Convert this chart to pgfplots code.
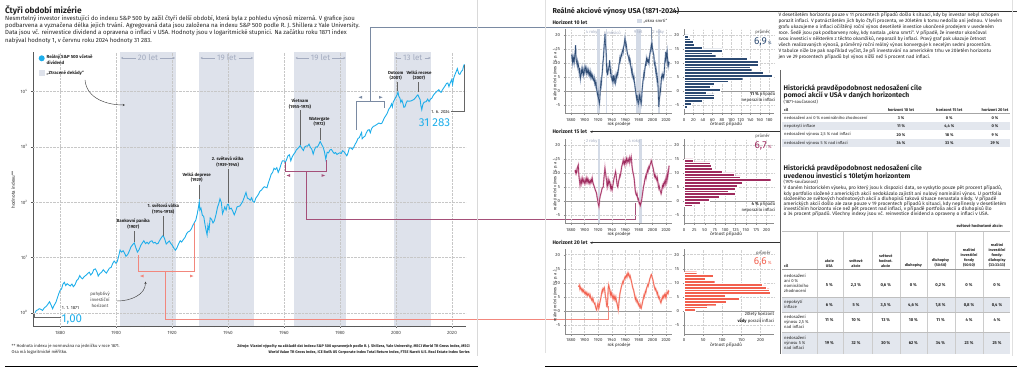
\documentclass[border=0pt]{standalone}
\usepackage{pgfplots}
\pgfplotsset{compat=1.18}
\usepackage{pgfplotstable}
\usepackage{fontspec}
\setmainfont{Fira Sans}
\usetikzlibrary{arrows.meta}
\definecolor{cy}{HTML}{1EAEEA}
\definecolor{band}{HTML}{DEE2EB}
\definecolor{bandtxt}{HTML}{A3ABBF}
\definecolor{navy}{HTML}{2C4A72}
\definecolor{navyl}{HTML}{A3B2CA}
\definecolor{plum}{HTML}{9E2B5E}
\definecolor{pluml}{HTML}{DDA3BD}
\definecolor{salm}{HTML}{F2604E}
\definecolor{salml}{HTML}{F9B7AE}
\definecolor{redc}{HTML}{F2877D}
\definecolor{purc}{HTML}{A55079}
\definecolor{bluc}{HTML}{7A8AA2}
\definecolor{win}{HTML}{D3DAE6}
\definecolor{rowg}{HTML}{E3E7EE}
\definecolor{txt}{HTML}{222222}
\newcommand\fsz[2]{\fontsize{#1pt}{#2pt}\selectfont}
\newcommand\tl[3]{\node[anchor=west, font=\fsz{4.1}{4.8}, text=txt, inner sep=0, align=left] at (#1,-#2) {#3};}
\newcommand\tc[3]{\node[font=\fsz{4.0}{4.8}\bfseries, text=txt, inner sep=0, align=center] at (#1,-#2) {#3};}
\newcommand\ann[3]{\node[font=\fsz{4.4}{5.2}\bfseries, text=txt, inner sep=0, align=center] at (#1,-#2) {#3};}

\pgfplotsset{
  common/.style={scale only axis,
    axis x line*=bottom, axis y line*=left,
    axis line style={black!45, line width=0.4pt},
    tick align=outside, major tick length=1.5pt,
    tick style={black!45, line width=0.3pt},
    /pgf/number format/1000 sep={}, /pgf/number format/assume math mode=true,
    tick label style={font=\fsz{4.3}{5}, text=black!80},
    grid=major, major grid style={densely dotted, black!18, line width=0.35pt},
    ymin=-8, ymax=22, ytick={-5,0,...,20}},
  midchart/.style={common, width=106.7pt, height=84pt,
    xmin=1871.2, xmax=2028.3, xtick={1880,1900,...,2020}},
  histo/.style={common, width=90pt, height=84pt, xmin=0},
}

\pgfplotstableread{
x y
1871.0 1.00
1871.5 1.10
1872.0 1.12
1872.5 1.18
1873.0 1.16
1873.7 1.10
1874.3 1.22
1875.0 1.30
1875.6 1.42
1876.2 1.58
1876.7 1.40
1877.3 1.18
1877.8 1.35
1878.5 1.55
1879.0 1.85
1879.5 2.20
1880.0 2.55
1880.5 2.70
1881.0 3.30
1881.5 3.55
1882.0 3.10
1882.5 3.35
1883.0 3.20
1883.6 3.05
1884.2 3.30
1884.7 2.95
1885.3 3.20
1885.9 3.80
1886.5 4.10
1887.0 4.70
1887.5 4.30
1888.0 4.10
1888.6 4.50
1889.2 4.75
1889.8 5.10
1890.4 5.40
1890.9 4.80
1891.5 5.20
1892.0 6.00
1892.6 6.20
1893.2 5.40
1893.6 4.60
1894.2 5.10
1894.8 5.40
1895.4 6.00
1895.9 5.60
1896.5 5.20
1897.0 5.70
1897.6 6.40
1898.2 6.60
1898.8 7.80
1899.3 8.60
1899.9 7.90
1900.4 8.40
1900.9 10.5
1901.4 13.6
1901.9 12.5
1902.5 13.2
1903.0 12.0
1903.5 10.5
1904.1 11.2
1904.7 13.0
1905.3 15.5
1905.9 17.0
1906.5 18.3
1907.0 15.2
1907.6 12.5
1908.2 13.8
1908.8 16.5
1909.4 18.5
1909.9 20.0
1910.5 17.8
1911.0 18.8
1911.6 17.6
1912.2 19.5
1912.8 20.0
1913.3 18.2
1913.9 18.8
1914.5 17.5
1915.0 18.0
1915.6 20.5
1916.2 23.0
1916.8 25.0
1917.3 22.0
1917.9 17.5
1918.4 18.5
1919.0 19.8
1919.5 18.0
1920.1 16.5
1920.7 14.5
1921.2 13.5
1921.7 14.8
1922.3 17.5
1922.9 20.0
1923.4 19.0
1924.0 21.0
1924.6 23.0
1925.2 27.0
1925.7 29.0
1926.3 30.0
1926.9 33.0
1927.4 38.0
1927.9 42.0
1928.5 48.0
1929.0 62.0
1929.4 80.0
1929.7 102
1929.9 72
1930.3 78
1930.8 58
1931.3 55
1931.8 38
1932.2 30
1932.5 25.5
1932.8 38
1933.2 31
1933.6 52
1934.1 49
1934.6 42
1935.1 46
1935.7 60
1936.2 80
1936.7 95
1937.1 115
1937.6 98
1938.0 62
1938.4 70
1938.8 82
1939.3 72
1939.7 90
1940.1 92
1940.6 75
1941.1 78
1941.6 70
1942.2 59
1942.7 68
1943.2 82
1943.7 84
1944.2 85
1944.8 95
1945.3 105
1945.9 128
1946.4 150
1946.9 118
1947.4 115
1947.9 108
1948.4 120
1948.9 102
1949.4 100
1949.9 118
1950.4 128
1950.9 140
1951.4 158
1951.9 165
1952.4 178
1952.9 190
1953.4 186
1953.9 182
1954.4 225
1954.9 265
1955.4 320
1955.9 345
1956.4 410
1956.9 390
1957.4 420
1957.9 345
1958.4 395
1958.9 480
1959.4 560
1959.9 560
1960.4 520
1960.9 590
1961.4 690
1961.9 720
1962.4 560
1962.9 660
1963.4 730
1963.9 790
1964.4 880
1964.9 930
1965.4 1000
1965.8 1060
1966.3 950
1966.9 860
1967.4 1000
1967.9 1040
1968.4 1030
1968.9 1120
1969.4 980
1969.9 910
1970.4 740
1970.9 900
1971.4 1000
1971.9 990
1972.4 1100
1972.9 1250
1973.4 1110
1973.9 1000
1974.4 830
1974.9 600
1975.4 800
1975.9 780
1976.4 880
1976.9 900
1977.4 820
1977.9 760
1978.4 790
1978.9 730
1979.4 760
1979.9 780
1980.4 760
1980.9 850
1981.4 820
1981.9 750
1982.4 690
1982.8 760
1983.3 950
1983.8 960
1984.4 900
1984.9 990
1985.4 1120
1985.9 1230
1986.4 1420
1986.9 1470
1987.4 1700
1987.7 1820
1987.9 1400
1988.4 1500
1988.9 1560
1989.4 1800
1989.9 2000
1990.4 2050
1990.8 1800
1991.3 2150
1991.9 2350
1992.4 2400
1992.9 2500
1993.4 2600
1993.9 2700
1994.4 2620
1994.9 2650
1995.4 3000
1995.9 3400
1996.4 3700
1996.9 4100
1997.4 4800
1997.9 5200
1998.4 6000
1998.7 5300
1999.0 6500
1999.5 7200
1999.9 7900
2000.3 8600
2000.7 9800
2001.0 8200
2001.4 7600
2001.7 6400
2002.1 7000
2002.5 6000
2002.8 5200
2003.2 5300
2003.6 6200
2004.0 6800
2004.5 6700
2004.9 6700
2005.4 6800
2005.9 7000
2006.4 7200
2006.9 7700
2007.4 8300
2007.8 8700
2008.2 7900
2008.6 7200
2008.9 5500
2009.2 4700
2009.6 5900
2010.0 6400
2010.4 6500
2010.8 6600
2011.3 7300
2011.8 6600
2012.3 7300
2012.8 7600
2013.3 8500
2013.8 9200
2014.3 9800
2014.8 10300
2015.3 10800
2015.7 10000
2016.1 9700
2016.6 10800
2017.1 11800
2017.6 12800
2018.0 14000
2018.5 14300
2018.9 12300
2019.4 14500
2019.9 16500
2020.2 13500
2020.6 17500
2021.0 20000
2021.5 23000
2021.9 26000
2022.4 21000
2022.8 20500
2023.3 23000
2023.8 24500
2024.1 28500
2024.42 31283
}\mainidx

\pgfplotstableread{
x y
1881.0 13.0
1881.6 11.5
1882.3 10.2
1882.9 12.0
1883.5 10.8
1884.2 11.6
1884.8 10.5
1885.5 12.5
1886.2 14.0
1886.8 16.4
1887.4 12.0
1888.0 10.8
1888.7 9.8
1889.3 10.5
1890.0 8.8
1890.7 9.6
1891.4 8.6
1892.0 7.0
1892.7 8.2
1893.3 5.5
1893.9 4.4
1894.6 6.0
1895.3 7.2
1895.9 6.5
1896.5 8.0
1897.2 6.8
1897.9 7.4
1898.6 5.6
1899.3 6.2
1900.0 7.6
1900.7 8.8
1901.3 8.2
1902.0 7.0
1902.7 7.8
1903.4 6.2
1904.1 6.8
1904.8 7.6
1905.5 6.5
1906.2 7.2
1906.9 5.8
1907.6 6.4
1908.3 5.4
1909.0 6.6
1909.8 5.2
1910.5 5.8
1911.2 4.8
1911.9 5.4
1912.6 4.2
1913.4 3.8
1914.1 4.6
1914.8 3.0
1915.5 3.6
1916.2 2.2
1916.9 2.8
1917.5 1.2
1918.1 0.0
1918.7 -0.8
1919.3 -1.6
1919.9 -0.6
1920.6 -2.8
1921.2 -3.6
1921.8 -4.6
1922.4 -3.0
1922.9 -0.5
1923.5 1.5
1924.1 3.2
1924.7 2.5
1925.3 4.8
1925.9 6.2
1926.5 8.0
1927.1 10.4
1927.7 11.5
1928.3 14.0
1928.9 16.5
1929.5 18.0
1930.1 20.4
1930.6 17.0
1931.2 15.8
1931.8 14.0
1932.3 9.0
1932.8 6.5
1933.4 7.5
1933.9 5.6
1934.5 6.8
1935.1 7.6
1935.7 8.4
1936.3 9.2
1936.9 11.0
1937.5 8.5
1938.0 6.8
1938.6 7.4
1939.3 5.0
1940.0 4.6
1940.6 3.8
1941.3 4.8
1941.9 3.6
1942.6 5.6
1943.2 4.2
1943.9 4.8
1944.5 3.0
1945.1 2.6
1945.7 4.0
1946.3 5.4
1946.9 4.6
1947.5 5.6
1948.2 6.4
1948.8 5.8
1949.5 7.2
1950.1 8.0
1950.7 9.4
1951.4 10.2
1952.0 11.6
1952.6 11.0
1953.3 12.2
1954.0 13.0
1954.7 12.6
1955.4 14.0
1956.1 14.6
1956.8 14.0
1957.5 15.8
1958.1 16.2
1958.8 17.5
1959.5 18.8
1960.1 17.6
1960.7 16.0
1961.4 16.6
1962.0 15.2
1962.7 14.0
1963.3 13.2
1964.0 12.6
1964.6 12.2
1965.3 11.2
1965.9 11.8
1966.6 10.4
1967.2 10.8
1967.9 9.0
1968.6 8.2
1969.3 6.8
1969.9 7.6
1970.6 5.8
1971.2 5.0
1971.8 4.4
1972.5 5.2
1973.1 3.6
1973.7 2.8
1974.3 1.4
1974.9 0.4
1975.5 -0.6
1976.1 -1.8
1976.7 -2.8
1977.3 -1.4
1977.9 -3.0
1978.5 -4.0
1979.1 -4.6
1979.7 -3.2
1980.3 -1.8
1980.9 -2.8
1981.5 -1.6
1982.1 -2.6
1982.7 -3.8
1983.3 -4.6
1983.9 -3.4
1984.4 -1.0
1984.9 0.8
1985.4 2.0
1986.0 3.6
1986.6 4.4
1987.2 6.0
1987.8 5.4
1988.4 7.0
1988.9 8.0
1989.5 9.2
1990.1 10.0
1990.6 9.0
1991.2 11.6
1991.8 11.0
1992.4 10.6
1993.0 11.2
1993.7 10.4
1994.3 11.0
1994.9 10.2
1995.5 12.0
1996.1 13.0
1996.7 14.0
1997.3 14.6
1997.9 15.8
1998.5 16.8
1999.0 15.6
1999.5 16.4
2000.1 15.0
2000.7 14.2
2001.3 13.4
2002.0 12.8
2002.6 10.2
2003.2 9.4
2003.8 9.8
2004.4 8.0
2004.9 6.8
2005.5 7.4
2006.1 5.6
2006.8 3.8
2007.3 4.6
2007.8 3.2
2008.3 0.8
2008.8 -2.4
2009.3 -5.7
2009.8 -4.0
2010.3 -2.6
2010.8 -1.6
2011.3 0.4
2011.8 0.0
2012.3 1.8
2012.8 3.4
2013.3 5.0
2013.9 4.6
2014.5 5.8
2015.1 5.2
2015.7 5.6
2016.3 4.8
2016.9 5.6
2017.5 7.4
2018.0 9.6
2018.5 11.0
2019.0 10.2
2019.5 14.0
2020.0 12.6
2020.5 11.8
2021.0 13.4
2021.5 14.2
2022.0 12.4
2022.6 9.6
2023.2 10.2
2023.8 9.2
2024.4 10.4
}\tenY

\pgfplotstableread{
x y
1886.0 11.0
1886.6 10.2
1887.3 10.8
1888.0 10.0
1888.6 10.5
1889.3 11.8
1890.0 12.4
1890.8 12.9
1891.4 10.0
1892.0 8.2
1892.7 7.0
1893.3 5.7
1894.0 6.8
1894.7 7.6
1895.4 6.4
1896.0 7.2
1896.7 8.0
1897.4 7.0
1898.1 7.6
1898.8 6.8
1899.6 6.3
1900.3 7.2
1901.0 6.6
1901.7 7.6
1902.4 7.0
1903.0 8.0
1903.7 7.2
1904.4 7.8
1905.1 6.8
1905.8 7.4
1906.5 6.6
1907.2 7.0
1907.9 6.3
1908.6 7.2
1909.3 6.8
1910.0 7.6
1910.7 7.0
1911.4 8.0
1912.1 6.8
1912.8 6.2
1913.6 5.6
1914.3 5.1
1915.0 4.6
1915.7 4.0
1916.4 3.6
1917.0 3.2
1917.7 2.7
1918.4 1.4
1919.1 0.6
1919.8 -0.6
1920.5 -1.4
1921.1 -2.0
1921.7 -0.8
1922.3 0.8
1922.9 1.6
1923.5 2.2
1924.1 2.7
1924.8 3.4
1925.5 4.2
1926.1 4.6
1926.8 4.8
1927.5 5.0
1928.1 6.8
1928.7 8.6
1929.4 10.2
1930.0 11.7
1930.6 10.4
1931.2 9.6
1931.8 8.2
1932.4 7.5
1933.0 5.8
1933.6 6.8
1934.2 5.4
1934.9 6.2
1935.5 7.4
1936.1 6.6
1936.7 7.0
1937.3 6.3
1938.0 4.8
1938.7 5.6
1939.4 4.4
1940.1 5.0
1940.8 4.2
1941.5 5.4
1942.1 6.2
1942.8 7.4
1943.5 8.2
1944.2 8.8
1944.9 9.6
1945.6 10.5
1946.2 9.8
1946.9 8.0
1947.6 6.4
1948.2 5.4
1948.9 5.0
1949.5 6.0
1950.2 7.2
1950.9 7.8
1951.5 8.6
1952.0 9.3
1952.7 9.0
1953.4 10.2
1954.1 11.2
1954.8 12.4
1955.5 13.0
1956.2 13.8
1956.9 14.6
1957.5 13.6
1958.2 14.0
1958.9 13.2
1959.6 14.4
1960.3 13.8
1961.0 14.6
1961.8 15.2
1962.4 13.6
1963.1 14.2
1963.8 14.8
1964.5 14.2
1965.2 14.8
1965.9 15.4
1966.6 13.8
1967.3 14.6
1968.0 15.2
1968.6 15.8
1969.2 14.6
1969.8 12.6
1970.5 11.2
1971.1 10.4
1971.8 9.6
1972.5 8.8
1973.1 7.8
1973.8 6.0
1974.4 4.2
1975.0 3.2
1975.8 2.4
1976.5 2.0
1977.2 2.6
1977.9 1.4
1978.6 0.6
1979.3 0.8
1980.0 -0.4
1980.7 -1.0
1981.4 -0.6
1982.1 -1.6
1982.8 -1.0
1983.5 -0.4
1984.2 0.6
1984.9 1.8
1985.6 3.0
1986.3 4.2
1987.0 5.4
1987.7 6.0
1988.4 7.2
1989.1 8.0
1989.8 8.8
1990.5 8.2
1991.2 9.4
1991.9 10.2
1992.6 11.0
1993.3 10.4
1994.0 11.4
1994.7 12.2
1995.4 11.8
1996.1 12.6
1996.8 13.2
1997.5 13.6
1998.2 14.4
1998.8 14.0
1999.4 13.2
2000.0 12.6
2000.7 12.0
2001.4 11.2
2002.1 10.2
2002.8 9.0
2003.5 9.4
2004.2 8.4
2004.9 8.8
2005.8 8.0
2006.5 7.4
2007.2 8.2
2007.9 7.0
2008.6 5.4
2009.3 4.6
2010.0 5.2
2010.7 4.2
2011.4 3.6
2012.1 3.2
2012.7 2.6
2013.2 3.0
2013.9 4.2
2014.6 5.4
2015.3 5.0
2016.0 6.0
2016.7 5.4
2017.4 6.4
2018.1 7.0
2018.8 6.2
2019.5 7.6
2020.2 6.8
2020.9 8.4
2021.6 9.6
2022.3 8.2
2023.0 9.8
2023.7 10.8
2024.4 12.6
}\fifteenY

\pgfplotstableread{
x y
1891.0 8.7
1891.6 8.9
1892.3 9.2
1893.0 8.1
1893.6 8.6
1894.3 8.0
1895.0 7.6
1895.7 7.9
1896.4 7.2
1897.1 7.6
1897.8 7.0
1898.5 7.4
1899.2 6.8
1900.0 6.4
1900.7 6.8
1901.4 6.2
1902.1 6.6
1902.8 6.0
1903.5 6.4
1904.2 5.6
1904.9 6.0
1905.6 5.8
1906.3 6.2
1907.0 5.4
1907.7 5.0
1908.4 5.6
1909.1 4.8
1909.8 4.4
1910.5 4.0
1911.2 4.6
1911.9 3.8
1912.6 4.2
1913.3 3.4
1914.0 3.0
1914.7 2.6
1915.3 2.8
1916.0 1.8
1916.6 1.2
1917.2 0.8
1917.8 0.5
1918.4 1.4
1919.1 2.0
1919.7 2.8
1920.3 2.2
1920.9 1.0
1921.5 1.6
1922.1 2.6
1922.8 3.4
1923.5 4.2
1924.2 5.0
1924.9 6.2
1925.6 7.0
1926.2 7.6
1926.9 7.0
1927.6 7.8
1928.3 8.1
1929.0 8.4
1929.6 7.6
1930.2 6.4
1930.8 5.0
1931.4 4.6
1932.0 3.2
1932.6 1.8
1933.2 1.6
1933.8 2.6
1934.4 5.8
1934.9 8.4
1935.5 9.3
1936.1 8.6
1936.7 8.0
1937.3 7.2
1937.9 6.0
1938.5 6.6
1939.2 5.8
1939.9 6.4
1940.6 5.6
1941.3 4.8
1942.0 5.4
1942.7 4.6
1943.4 5.2
1944.1 4.4
1944.8 5.0
1945.5 4.2
1946.2 4.8
1946.9 3.6
1947.6 3.0
1948.3 2.2
1948.9 1.4
1949.6 0.5
1950.2 1.8
1950.8 3.6
1951.4 4.8
1952.0 6.2
1952.7 7.0
1953.4 7.8
1954.1 8.6
1954.8 9.2
1955.5 9.8
1956.2 10.4
1956.9 10.0
1957.6 10.8
1958.3 11.2
1959.0 11.8
1959.7 12.2
1960.4 11.8
1961.1 12.4
1961.8 12.8
1962.5 12.2
1963.2 13.0
1963.8 13.5
1964.4 12.8
1965.1 13.2
1965.8 12.6
1966.5 12.0
1967.2 12.4
1967.9 11.6
1968.6 11.0
1969.3 10.2
1970.0 9.4
1970.7 8.6
1971.4 8.0
1972.1 7.6
1972.8 6.8
1973.5 6.0
1974.2 5.0
1974.9 4.2
1975.6 4.8
1976.3 4.0
1977.0 3.4
1977.7 3.8
1978.4 3.0
1979.1 2.4
1979.8 2.8
1980.5 2.0
1981.2 1.6
1981.9 2.2
1982.6 1.2
1983.3 1.0
1983.9 1.6
1984.6 2.4
1985.3 3.2
1986.0 4.0
1986.7 4.6
1987.4 5.6
1988.1 5.2
1988.8 6.2
1989.5 7.0
1990.2 6.6
1990.9 7.6
1991.6 8.4
1992.3 8.8
1993.0 9.4
1993.7 9.0
1994.4 9.8
1995.1 10.4
1995.8 11.2
1996.5 11.8
1997.2 12.2
1997.8 12.8
1998.5 13.0
1999.1 12.4
1999.8 11.8
2000.5 11.2
2001.2 10.4
2001.9 9.6
2002.6 8.8
2003.3 8.2
2004.0 7.6
2004.7 8.0
2005.4 7.4
2006.1 7.0
2006.8 6.2
2007.5 6.6
2008.2 5.4
2008.9 4.8
2009.6 5.2
2010.3 4.6
2011.0 4.0
2011.7 3.4
2012.4 3.0
2013.1 3.6
2013.8 4.4
2014.5 5.0
2015.2 4.6
2015.9 5.4
2016.6 5.0
2017.3 5.6
2018.0 6.0
2018.7 5.2
2019.4 5.8
2020.1 5.0
2020.8 6.0
2021.5 6.8
2022.2 6.4
2022.9 6.2
2023.6 7.2
2024.4 7.0
}\twentyY

\begin{document}
\begin{tikzpicture}[x=1pt,y=1pt]

% ================= LEFT PANEL =================
\node[anchor=west, inner sep=0, font=\fsz{8.3}{9}\bfseries, text=txt] at (5,-11) {Čtyři období mizérie};
\node[anchor=north west, inner sep=0, font=\fsz{6.0}{5.0}, text=txt, align=left] at (5,-15.6) {%
Nesmrtelný investor investující do indexu S\&P 500 by zažil čtyři delší období, která byla z pohledu výnosů mizerná. V grafice jsou\\
podbarvena a vyznačena délka jejich trvání. Agregovaná data jsou založena na indexu S\&P 500 podle R. J. Shillera z Yale University.\\
Data jsou vč. reinvestice dividend a opravena o inflaci v USA. Hodnoty jsou v logaritmické stupnici. Na začátku roku 1871 index\\
nabýval hodnoty 1, v červnu roku 2024 hodnoty 31 283.};

\begin{axis}[
  at={(33pt,-326pt)}, anchor=south west, scale only axis,
  width=433pt, height=274pt,
  xmin=1870.3, xmax=2025, ymode=log, ymin=0.575, ymax=52000,
  axis x line*=bottom, axis y line*=left,
  axis line style={black!65, line width=0.5pt},
  xtick={1880,1900,...,2020}, minor x tick num=3,
  ytick={1,10,100,1000,10000},
  yticklabels={10\textsuperscript{0},10\textsuperscript{1},10\textsuperscript{2},10\textsuperscript{3},10\textsuperscript{4}},
  yminorticks=false,
  tick align=outside, major tick length=2pt, minor tick length=1.2pt,
  tick style={black!65, line width=0.4pt},
  /pgf/number format/1000 sep={}, /pgf/number format/assume math mode=true,
  tick label style={font=\fsz{4.6}{5}, text=black!75},
]
\fill[band] (axis cs:1901.3,0.575) rectangle (axis cs:1921.3,52000);
\fill[band] (axis cs:1929.7,0.575) rectangle (axis cs:1949.3,52000);
\fill[band] (axis cs:1963.6,0.575) rectangle (axis cs:1982.3,52000);
\fill[band] (axis cs:1999.2,0.575) rectangle (axis cs:2012.6,52000);
\pgfplotsinvokeforeach{1,10,100,1000,10000}{\draw[densely dotted, black!22, line width=0.4pt] (axis cs:1870.3,#1) -- (axis cs:2025,#1);}
\pgfplotsinvokeforeach{1880,1900,1920,1940,1960,1980,2000,2020}{\draw[densely dotted, black!22, line width=0.4pt] (axis cs:#1,0.575) -- (axis cs:#1,52000);}
\addplot[cy, line width=0.9pt] table {\mainidx};
\end{axis}

\node[rotate=90, font=\fsz{4.6}{5}, text=txt, inner sep=0] at (13,-190) {hodnota indexu**};

% band labels
\foreach \c/\t/\l/\r in {148/20 let/121/175, 226.8/19 let/200.5/253, 320.5/19 let/295.5/345.5, 412.8/13 let/395/430.5}{
  \node[font=\fsz{8}{9}, text=bandtxt, inner sep=0] (bl) at (\c,-58) {\t};
  \draw[bandtxt, line width=0.6pt, -{Stealth[length=2.2pt,width=2.2pt]}] ([xshift=-2pt]bl.west) -- (\l,-58);
  \draw[bandtxt, line width=0.6pt, -{Stealth[length=2.2pt,width=2.2pt]}] ([xshift=2pt]bl.east) -- (\r,-58);
}

% legend
\fill[cy] (41.7,-58.3) circle (3pt);
\node[anchor=west, inner sep=0, font=\fsz{4.4}{5.4}\bfseries, text=txt, align=left] at (46.5,-59.7) {Reálný S\&P 500 včetně\\dividend};
\fill[band] (38.5,-70.3) rectangle (44.9,-76.5);
\node[anchor=west, inner sep=0, font=\fsz{4.4}{5.4}\bfseries, text=txt] at (46.5,-73.4) {„Ztracené dekády“};
\draw[black!75, line width=0.45pt, -{Stealth[length=2.4pt,width=2.2pt]}] (85,-80) to[out=-85, in=180] (125,-105);

% annotations
\ann{133.3}{224}{Bankovní panika\\(1907)}
\draw[black!60, line width=0.4pt] (134.5,-231) -- (134.5,-242);
\ann{163.3}{209}{1. světová válka\\(1914-1918)}
\draw[black!60, line width=0.4pt] (163.5,-216) -- (163.5,-236);
\ann{196.7}{177.5}{Velká deprese\\(1929)}
\draw[black!60, line width=0.4pt] (199,-184.5) -- (199,-199);
\ann{227.7}{162}{2. světová válka\\(1939-1945)}
\draw[black!60, line width=0.4pt] (227.7,-169) -- (227.7,-203);
\ann{300}{104}{Vietnam\\(1955-1975)}
\draw[black!60, line width=0.4pt] (300,-110.5) -- (300,-145);
\ann{319.3}{121.7}{Watergate\\(1972)}
\draw[black!60, line width=0.4pt] (320,-128.3) -- (320,-140);
\ann{395.7}{75.7}{Dotcom\\(2001)}
\draw[black!60, line width=0.4pt] (397,-82.3) -- (397,-91);
\ann{419}{75.7}{Velká recese\\(2007)}
\draw[black!60, line width=0.4pt] (418,-82.3) -- (418,-92);

\draw[black!60, line width=0.4pt] (451,-111.7) -- (464.3,-111.7) -- (464.3,-65.5);
\node[anchor=east, inner sep=0, font=\fsz{4.4}{5}, text=txt] at (450,-111.7) {1. 6. 2024};
\node[inner sep=0, font=\fsz{11.5}{12}, text=cy] at (434.5,-123) {31 283};
\draw[black!60, line width=0.4pt] (34.3,-313.5) -- (34.3,-317.3) -- (61,-317.3);
\node[anchor=west, inner sep=0, font=\fsz{4.4}{5}, text=txt] at (61.7,-308.3) {1. 1. 1871};
\node[anchor=west, inner sep=0, font=\fsz{11.5}{12}, text=cy] at (61.5,-319.5) {1,00};
\node[inner sep=0, font=\fsz{4.4}{6}, text=black!75, align=center] at (100,-300) {pohyblivý\\investiční\\horizont};
\draw[black!75, line width=0.45pt, -{Stealth[length=2.4pt,width=2.2pt]}] (117,-301) to[out=0, in=-90] (145.5,-281.5);

% brackets and connectors
\draw[redc, line width=0.7pt] (138.3,-255) -- (138.3,-271.7) -- (194,-271.7) -- (194,-223);
\draw[redc, line width=0.7pt] (165.7,-271.7) -- (165.7,-319.5) -- (608.3,-319.5) -- (608.3,-306);
\fill[redc] (140,-276) -- (143.5,-274.6) -- (143.5,-277.4) -- cycle;
\fill[redc] (193.5,-276) -- (190,-274.6) -- (190,-277.4) -- cycle;
\draw[purc, line width=0.7pt] (285,-161.7) -- (285,-171.7) -- (326.7,-171.7) -- (326.7,-160);
\draw[purc, line width=0.7pt] (306,-171.7) -- (306,-219) -- (635.7,-219) -- (635.7,-203.3);
\fill[purc] (286.5,-175.5) -- (290,-174.1) -- (290,-176.9) -- cycle;
\fill[purc] (325,-175.5) -- (321.5,-174.1) -- (321.5,-176.9) -- cycle;
\draw[bluc, line width=0.7pt] (356.7,-130) -- (356.7,-101) -- (384,-101) -- (384,-108);
\draw[bluc, line width=0.7pt] (370.7,-101) -- (370.7,-27) -- (651,-27) -- (651,-43);
\fill[bluc] (358.5,-97.3) -- (362,-95.9) -- (362,-98.7) -- cycle;
\fill[bluc] (382.5,-97.3) -- (379,-95.9) -- (379,-98.7) -- cycle;

% footnotes
\node[anchor=north west, inner sep=0, font=\fsz{4.2}{5.8}, text=txt, align=left] at (11.5,-344) {** Hodnota indexu je normována na jedničku v roce 1871.\\Osa má logaritmické měřítko.};
\node[anchor=north east, inner sep=0, font=\fsz{3.8}{5.8}\bfseries, text=txt, align=right] at (470,-344) {Zdroje: Vlastní výpočty na základě dat indexu S\&P 500 upravených podle R. J. Shillera, Yale University, MSCI World TR Gross Index, MSCI\\World Value TR Gross Index, ICE BofA US Corporate Index Total Return Index, FTSE Nareit U.S. Real Estate Index Series};
\draw[black!15, line width=0.6pt] (477,0) -- (477,-356);
\draw[black, line width=1.4pt] (5,-366.7) -- (478,-366.7);

% ================= MIDDLE PANEL =================
\draw[black!12, line width=1.2pt] (545.7,0) -- (545.7,-353);
\node[anchor=west, inner sep=0, font=\fsz{7.2}{8}\bfseries, text=txt] at (552.3,-11) {Reálné akciové výnosy USA (1871-2024)};
\draw[black!80, line width=0.5pt, {Stealth[length=2.6pt,width=2.4pt]}-] (672,-11.7) -- (1017,-11.7);
\node[anchor=west, inner sep=0, font=\fsz{5.2}{6}\bfseries, text=txt] at (552.3,-22.7) {Horizont 10 let};
\fill[win] (636.7,-19) rectangle (641.7,-23.5);
\node[anchor=west, inner sep=0, font=\fsz{4.2}{5}, text=txt] at (643.3,-21.3) {„okna smrti“};
\node[anchor=west, inner sep=0, font=\fsz{5.2}{6}\bfseries, text=txt] at (552.3,-131.7) {Horizont 15 let};
\draw[black!80, line width=0.5pt, {Stealth[length=2.6pt,width=2.4pt]}-] (590,-131.7) -- (780,-131.7);
\node[anchor=west, inner sep=0, font=\fsz{5.2}{6}\bfseries, text=txt] at (552.3,-242.7) {Horizont 20 let};
\draw[black!80, line width=0.5pt, {Stealth[length=2.6pt,width=2.4pt]}-] (590,-242.7) -- (780,-242.7);

% chart 1
\begin{axis}[midchart, at={(565pt,-113.4pt)}, anchor=south west]
\fill[win] (axis cs:1918.5,-8) rectangle (axis cs:1922.5,22);
\fill[win] (axis cs:1931.7,-8) rectangle (axis cs:1932.5,22);
\fill[win] (axis cs:1975.5,-8) rectangle (axis cs:1983.8,22);
\fill[win] (axis cs:2008.3,-8) rectangle (axis cs:2010.6,22);
\draw[black!40, line width=0.6pt] (axis cs:1871.2,0) -- (axis cs:2028.3,0);
\addplot[navyl, line width=1.5pt] table {\tenY};
\addplot[navy, line width=0.6pt] table {\tenY};
\end{axis}
\begin{axis}[histo, at={(684pt,-113.4pt)}, anchor=south west, xmax=190, xtick={0,20,...,180}]
\draw[black!40, line width=0.6pt] (axis cs:0,0) -- (axis cs:190,0);
\addplot[xbar, bar width=1, bar shift=0pt, fill=navy, draw=white, line width=0.25pt] coordinates {
(7,-5.5) (16,-4.5) (39,-3.5) (64,-2.5) (64,-1.5) (46,-0.5) (76,0.5) (55,1.5) (64,2.5) (93,3.5) (124,4.5) (186,5.5) (167,6.5) (143,7.5) (140,8.5) (157,9.5) (157,10.5) (134,11.5) (67,12.5) (60,13.5) (81,14.5) (39,15.5) (21,16.5) (20,17.5) (13,18.5) (9,19.5)};
\end{axis}
\node[font=\fsz{4.2}{5}, text=bandtxt, inner sep=0] at (591.7,-32.3) {4 roky};
\node[font=\fsz{4.2}{5}, text=bandtxt, inner sep=0] at (612.3,-32.3) {6 měsíců};
\node[font=\fsz{4.2}{5}, text=bandtxt, inner sep=0] at (638.3,-32.3) {9 let};
\node[font=\fsz{4.2}{5}, text=bandtxt, inner sep=0] at (658.3,-32.3) {2 roky};
\node[rotate=90, font=\fsz{4.2}{5}, text=txt, inner sep=0] at (555,-75) {reálný roční výnos (\% p. a.)};
\node[font=\fsz{4.4}{5}, text=txt, inner sep=0] at (619,-124.3) {rok prodeje};
\node[font=\fsz{4.4}{5}, text=txt, inner sep=0] at (726,-124.3) {četnost případů};
\node[font=\fsz{4.3}{5}, text=black!75, inner sep=0] at (762.5,-31.7) {průměr};
\node[anchor=east, font=\fsz{10}{11}, text=navy, inner sep=0] at (767,-42) {6,9};
\node[anchor=west, font=\fsz{4.5}{5}, text=navy, inner sep=0] at (767.6,-43.2) {\%};
\node[anchor=east, font=\fsz{4.3}{5.6}, text=txt, inner sep=0, align=right] at (775.5,-97) {\textbf{11 \%} případů\\neporazilo inflaci};

% chart 2
\begin{axis}[midchart, at={(565pt,-223.4pt)}, anchor=south west]
\fill[win] (axis cs:1920.3,-8) rectangle (axis cs:1922.5,22);
\fill[win] (axis cs:1980,-8) rectangle (axis cs:1984,22);
\draw[black!40, line width=0.6pt] (axis cs:1871.2,0) -- (axis cs:2028.3,0);
\addplot[pluml, line width=1.5pt] table {\fifteenY};
\addplot[plum, line width=0.6pt] table {\fifteenY};
\end{axis}
\begin{axis}[histo, at={(684pt,-223.4pt)}, anchor=south west, xmax=218, xtick={0,25,...,200}]
\draw[black!40, line width=0.6pt] (axis cs:0,0) -- (axis cs:218,0);
\addplot[xbar, bar width=1, bar shift=0pt, fill=plum, draw=white, line width=0.25pt] coordinates {
(20,-1.5) (40,-0.5) (60,0.5) (85,1.5) (125,2.5) (108,3.5) (125,4.5) (128,5.5) (140,6.5) (210,7.5) (137,8.5) (122,9.5) (93,10.5) (68,11.5) (66,12.5) (64,13.5) (22,14.5)};
\end{axis}
\node[font=\fsz{4.2}{5}, text=bandtxt, inner sep=0] at (591.7,-141) {2 roky};
\node[font=\fsz{4.2}{5}, text=bandtxt, inner sep=0] at (634.3,-141) {4 roky};
\node[rotate=90, font=\fsz{4.2}{5}, text=txt, inner sep=0] at (555,-185) {reálný roční výnos (\% p. a.)};
\node[font=\fsz{4.4}{5}, text=txt, inner sep=0] at (619,-234.5) {rok prodeje};
\node[font=\fsz{4.4}{5}, text=txt, inner sep=0] at (726,-234.5) {četnost případů};
\node[font=\fsz{4.3}{5}, text=black!75, inner sep=0] at (762.5,-136) {průměr};
\node[anchor=east, font=\fsz{10}{11}, text=plum, inner sep=0] at (767,-146) {6,7};
\node[anchor=west, font=\fsz{4.5}{5}, text=plum, inner sep=0] at (767.6,-147.2) {\%};
\node[anchor=east, font=\fsz{4.3}{5.6}, text=txt, inner sep=0, align=right] at (775.5,-207) {\textbf{4 \%} případů\\neporazilo inflaci};

% chart 3
\begin{axis}[midchart, height=85pt, at={(565pt,-334pt)}, anchor=south west]
\draw[black!40, line width=0.6pt] (axis cs:1871.2,0) -- (axis cs:2028.3,0);
\addplot[salml, line width=1.5pt] table {\twentyY};
\addplot[salm, line width=0.6pt] table {\twentyY};
\end{axis}
\begin{axis}[histo, height=85pt, at={(684pt,-334pt)}, anchor=south west, xmax=235, xtick={0,50,...,200}]
\draw[black!40, line width=0.6pt] (axis cs:0,0) -- (axis cs:235,0);
\addplot[xbar, bar width=1, bar shift=0pt, fill=salm, draw=white, line width=0.25pt] coordinates {
(30,0.5) (60,1.5) (85,2.5) (110,3.5) (143,4.5) (107,5.5) (225,6.5) (222,7.5) (215,8.5) (203,9.5) (80,10.5) (55,11.5) (76,12.5) (33,13.5)};
\end{axis}
\node[rotate=90, font=\fsz{4.2}{5}, text=txt, inner sep=0] at (555,-296) {reálný roční výnos (\% p. a.)};
\node[font=\fsz{4.4}{5}, text=txt, inner sep=0] at (619,-345) {rok prodeje};
\node[font=\fsz{4.4}{5}, text=txt, inner sep=0] at (726,-345) {četnost případů};
\node[font=\fsz{4.3}{5}, text=black!75, inner sep=0] at (763.3,-253.3) {průměr};
\node[anchor=east, font=\fsz{10}{11}, text=salm, inner sep=0] at (767,-262) {6,6};
\node[anchor=west, font=\fsz{4.5}{5}, text=salm, inner sep=0] at (767.6,-263.2) {\%};
\node[anchor=east, font=\fsz{4.3}{6.6}, text=txt, inner sep=0, align=right] at (774.3,-317.5) {20letý horizont\\\textbf{vždy} porazil inflaci};
\draw[black, line width=1.4pt] (545,-366.7) -- (1017,-366.7);

% ================= RIGHT PANEL =================
\node[anchor=north west, inner sep=0, font=\fsz{4.8}{4.76}, text=txt, align=left] at (778.3,-12.4) {%
V desetiletém horizontu pouze v 11 procentech případů došlo k situaci, kdy by investor nebyl schopen\\
porazit inflaci. V patnáctiletém jich bylo čtyři procenta, ve 20letém k tomu nedošlo ani jednou. V levém\\
grafu ukazujeme o inflaci očištěný roční výnos desetileté investice ukončené prodejem v uvedeném\\
roce. Šedě jsou pak podbarveny roky, kdy nastala „okna smrti“. V případě, že investor ukončoval\\
svou investici v některém z těchto okamžiků, neporazil by inflaci. Pravý graf pak ukazuje četnost\\
všech realizovaných výnosů, průměrný roční reálný výnos konverguje k necelým sedmi procentům.\\
V tabulce níže lze pak například vyčíst, že při investování na americkém trhu ve 20letém horizontu\\
jen ve 29 procentech případů byl výnos nižší než 5 procent nad inflací.};
\draw[black!60, line width=0.6pt] (780,-70) -- (780,-354);
\draw[black!12, line width=0.8pt] (1012,0) -- (1012,-356);

% table 1
\node[anchor=north west, inner sep=0, font=\fsz{6.8}{7.3}\bfseries, text=txt, align=left] at (783.5,-84.3) {Historická pravděpodobnost nedosažení cíle\\pomocí akcií v USA v daných horizontech};
\node[anchor=west, inner sep=0, font=\fsz{4.3}{5}, text=txt] at (783.5,-101.7) {(1871-současnost)};
\fill[rowg] (782,-122) rectangle (1010,-130.5);
\fill[rowg] (782,-139) rectangle (1010,-147.5);
\draw[black!35, line width=0.3pt] (782,-113.5) -- (1010,-113.5);
\node[anchor=west, inner sep=0, font=\fsz{3.9}{4.6}\bfseries, text=txt] at (784,-110) {cíl};
\tc{901}{110}{horizont 10 let}
\tc{949.3}{110}{horizont 15 let}
\tc{995}{110}{horizont 20 let}
\tl{784}{117.75}{nedosažení ani 0 \% nominálního zhodnocení}
\tc{901}{117.75}{3 \%}\tc{949.3}{117.75}{0 \%}\tc{995}{117.75}{0 \%}
\tl{784}{126.25}{nepokrytí inflace}
\tc{901}{126.25}{11 \%}\tc{949.3}{126.25}{4,4 \%}\tc{995}{126.25}{0 \%}
\tl{784}{134.75}{nedosažení výnosu 2,5 \% nad inflací}
\tc{901}{134.75}{20 \%}\tc{949.3}{134.75}{18 \%}\tc{995}{134.75}{9 \%}
\tl{784}{143.25}{nedosažení výnosu 5 \% nad inflací}
\tc{901}{143.25}{34 \%}\tc{949.3}{143.25}{33 \%}\tc{995}{143.25}{29 \%}

% table 2
\node[anchor=north west, inner sep=0, font=\fsz{6.8}{7.3}\bfseries, text=txt, align=left] at (783.5,-165) {Historická pravděpodobnost nedosažení cíle\\uvedenou investicí s 10letým horizontem};
\node[anchor=west, inner sep=0, font=\fsz{4.3}{5}, text=txt] at (783.5,-181.7) {(1975-současnost)};
\node[anchor=north west, inner sep=0, font=\fsz{4.85}{5.2}, text=txt, align=left] at (783.5,-185.6) {%
V daném historickém výseku, pro který jsou k dispozici data, se vyskytlo pouze pět procent případů,\\
kdy portfolio složené z amerických akcií nedokázalo zajistit ani nulový nominální výnos. U portfolia\\
složeného ze světových hodnotových akcií a dluhopisů taková situace nenastala nikdy. V případě\\
amerických akcií došlo ale zase pouze v 19 procentech případů k situaci, kdy nepřinesly v desetiletém\\
investičním horizontu více než pět procent nad inflací, v případě portfolia akcií a dluhopisů šlo\\
o 34 procent případů. Všechny indexy jsou vč. reinvestice dividend a opraveny o inflaci v USA.};
\node[anchor=east, inner sep=0, font=\fsz{4.0}{4.6}\bfseries, text=txt] at (1003,-225.7) {světové hodnotové akcie:};
\fill[rowg] (782,-297.5) rectangle (1010,-312);
\fill[rowg] (782,-332) rectangle (1010,-354);
\draw[black!25, line width=0.3pt] (782,-231.5) -- (1010,-231.5);
\foreach \xx in {816.7,843.3,871.7,900,926.7,955,983.3}{\draw[black!20, line width=0.3pt] (\xx,-231.5) -- (\xx,-354);}
\draw[black!40, line width=0.35pt] (782,-269.5) -- (1010,-269.5);
\draw[black!25, line width=0.3pt] (782,-297.5) -- (1010,-297.5);
\draw[black!25, line width=0.3pt] (782,-312) -- (1010,-312);
\draw[black!25, line width=0.3pt] (782,-332) -- (1010,-332);
\node[anchor=south west, inner sep=0, font=\fsz{3.9}{4.6}\bfseries, text=txt] at (784,-267.5) {cíl};
\foreach \xx/\hh in {829.3/{akcie\\USA}, 856/{světové\\akcie}, 885.7/{světové\\hodnot.\\akcie}, 913.3/{dluhopisy}, 940.5/{dluhopisy\\(50:50)}, 969/{realitní\\investiční\\fondy\\(50:50)}, 997/{realitní\\investiční\\fondy:\\dluhopisy\\(33:33:33)}}{
  \node[anchor=south, inner sep=0, font=\fsz{3.8}{5}\bfseries, text=txt, align=center] at (\xx,-267.5) {\hh};
}
\node[anchor=west, inner sep=0, font=\fsz{4.2}{5}, text=txt, align=left] at (784,-283) {nedosažení\\ani 0 \%\\nominálního\\zhodnocení};
\node[anchor=west, inner sep=0, font=\fsz{4.2}{5}, text=txt, align=left] at (784,-304.5) {nepokrytí\\inflace};
\node[anchor=west, inner sep=0, font=\fsz{4.2}{5}, text=txt, align=left] at (784,-321.5) {nedosažení\\výnosu 2,5 \%\\nad inflací};
\node[anchor=west, inner sep=0, font=\fsz{4.2}{5}, text=txt, align=left] at (784,-342.5) {nedosažení\\výnosu 5 \%\\nad inflací};
\foreach \xx/\a/\b/\c/\d in {829.3/{5 \%}/{6 \%}/{11 \%}/{19 \%}, 856/{2,3 \%}/{5 \%}/{10 \%}/{32 \%}, 885.7/{0,6 \%}/{3,5 \%}/{13 \%}/{30 \%}, 913.3/{0 \%}/{4,6 \%}/{10 \%}/{62 \%}, 940.5/{0,2 \%}/{1,8 \%}/{11 \%}/{34 \%}, 969/{0 \%}/{0,8 \%}/{4 \%}/{23 \%}, 997/{0 \%}/{0,4 \%}/{4 \%}/{25 \%}}{
  \node[font=\fsz{4.2}{4.8}\bfseries, text=txt, inner sep=0] at (\xx,-285) {\a};
  \node[font=\fsz{4.2}{4.8}\bfseries, text=txt, inner sep=0] at (\xx,-305.5) {\b};
  \node[font=\fsz{4.2}{4.8}\bfseries, text=txt, inner sep=0] at (\xx,-320.5) {\c};
  \node[font=\fsz{4.2}{4.8}\bfseries, text=txt, inner sep=0] at (\xx,-343.5) {\d};
}
\pgfresetboundingbox
\path[use as bounding box] (0,0) rectangle (1024,-374);
\end{tikzpicture}
\end{document}
